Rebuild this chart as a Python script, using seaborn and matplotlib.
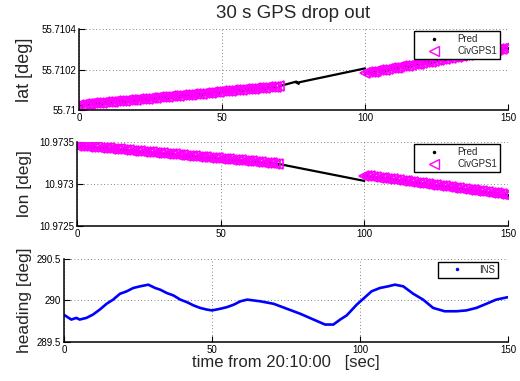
import numpy as np
import matplotlib
matplotlib.use("Agg")
import matplotlib.pyplot as plt
from matplotlib.lines import Line2D
import seaborn as sns

# ---- data ----
# GPS samples at 1 s, offsets in micro-degrees
gps_t1 = list(range(0, 71))
gps_t2 = list(range(100, 151))

lat_base = 55.71
lat_gps1 = [26, 27, 29, 30, 31, 33, 34, 35, 36, 38,
            39, 40, 42, 43, 44, 46, 47, 48, 50, 51,
            52, 54, 55, 56, 57, 59, 60, 61, 63, 64,
            65, 67, 68, 69, 71, 72, 73, 74, 76, 77,
            78, 80, 81, 82, 84, 85, 86, 88, 89, 90,
            92, 93, 94, 95, 97, 98, 99, 101, 102, 103,
            105, 106, 107, 109, 110, 111, 112, 114, 115, 116,
            118]
lat_gps2 = [183, 186, 188, 190, 193, 196, 198, 200, 203, 206,
            208, 210, 213, 216, 218, 220, 223, 226, 228, 230,
            233, 236, 238, 240, 243, 246, 248, 250, 253, 256,
            258, 260, 263, 266, 268, 270, 273, 276, 278, 280,
            283, 286, 288, 290, 293, 296, 298, 300, 303, 306,
            308]
drop_t_lat = [70, 76, 76.5, 100]
lat_drop = [118, 141, 136, 206]

lon_base = 10.9725
lon_gps1 = [956, 953, 950, 947, 944, 940, 937, 934, 931, 928,
            925, 922, 919, 916, 913, 910, 906, 903, 900, 897,
            894, 891, 888, 885, 882, 879, 875, 872, 869, 866,
            863, 860, 857, 854, 851, 848, 844, 841, 838, 835,
            832, 829, 826, 823, 820, 817, 813, 810, 807, 804,
            801, 798, 795, 792, 789, 786, 782, 779, 776, 773,
            770, 767, 764, 761, 758, 755, 751, 748, 745, 742,
            739]
lon_gps2 = [599, 594, 590, 585, 581, 576, 571, 567, 562, 558,
            553, 548, 544, 539, 535, 530, 525, 521, 516, 512,
            507, 502, 498, 493, 489, 484, 479, 475, 470, 466,
            461, 456, 452, 447, 443, 438, 433, 429, 424, 420,
            415, 410, 406, 401, 397, 392, 387, 383, 378, 374,
            369]
drop_t_lon = [70, 100]
lon_drop = [739, 536]

head_t = [0, 2.5, 4.2, 5.3, 7.6, 9.8, 12.1, 14.4, 16.6, 18.9, 21.2, 23.4, 25.7,
          28.5, 30.8, 32.5, 34.7, 37, 39.3, 41.5, 43.8, 46, 48.3, 50, 52.8,
          55.1, 57.4, 59.6, 61.9, 64.1, 66.3, 70.8, 75.3, 79.8, 84.3, 88.2, 91,
          93.3, 95.5, 98.9, 101.1, 103.9, 106.7, 109.5, 111.8, 114.6, 118,
          121.3, 124.7, 128.6, 132.6, 135.9, 139.3, 142.7, 146, 150]
heading = [289.827, 289.77, 289.79, 289.77, 289.79, 289.83, 289.89, 289.96,
           290.01, 290.08, 290.11, 290.15, 290.17, 290.19, 290.15, 290.13,
           290.09, 290.06, 290.01, 289.98, 289.94, 289.91, 289.89, 289.88,
           289.90, 289.92, 289.95, 289.99, 290.01, 290.0, 289.99, 289.96,
           289.90, 289.84, 289.77, 289.71, 289.71, 289.77, 289.82, 289.95,
           290.02, 290.11, 290.15, 290.17, 290.19, 290.17, 290.08, 290.01,
           289.91, 289.87, 289.87, 289.88, 289.91, 289.96, 290.01, 290.04]

sns.set_style("white")
plt.rcParams["font.family"] = ["Liberation Sans", "DejaVu Sans"]

fig = plt.figure(figsize=(5.2, 3.81), dpi=100)
ax1 = fig.add_axes([0.152, 0.711, 0.825, 0.2126])
ax2 = fig.add_axes([0.148, 0.407, 0.829, 0.2205])
ax3 = fig.add_axes([0.123, 0.1024, 0.854, 0.218])

MAG = "#ff00ff"
LEG = dict(fontsize=7, fancybox=False, edgecolor="k", framealpha=1,
           borderaxespad=0, borderpad=0.3)


def pos_panel(ax, base, g1, g2, dt, dv):
    t_pred = gps_t1 + dt[1:-1] + gps_t2
    v_pred = g1 + dv[1:-1] + g2
    # dropout line (prediction only)
    sns.lineplot(x=dt, y=[base + v * 1e-6 for v in dv], ax=ax, color="k",
                 lw=1.6, estimator=None, sort=False)
    # prediction dots
    sns.lineplot(x=t_pred, y=[base + v * 1e-6 for v in v_pred], ax=ax,
                 color="k", lw=0, marker=".", markersize=2.5,
                 markeredgecolor="k", estimator=None)
    # GPS triangles
    for tt, vv in [(gps_t1, g1), (gps_t2, g2)]:
        sns.lineplot(x=tt, y=[base + v * 1e-6 for v in vv], ax=ax, lw=0,
                     marker="<", markersize=7, markerfacecolor="none",
                     markeredgecolor=MAG, markeredgewidth=1.25,
                     estimator=None)
    handles = [Line2D([], [], color="k", marker=".", ls="", markersize=3),
               Line2D([], [], color=MAG, marker="<", ls="", markersize=7,
                      markerfacecolor="none")]
    leg = ax.legend(handles, ["Pred", "CivGPS1"], loc="upper right",
                    bbox_to_anchor=(0.981, 0.975), handlelength=3.5,
                    labelspacing=0.25, handletextpad=0.6, **LEG)
    leg.get_frame().set_linewidth(1.0)


pos_panel(ax1, lat_base, lat_gps1, lat_gps2, drop_t_lat, lat_drop)
pos_panel(ax2, lon_base, lon_gps1, lon_gps2, drop_t_lon, lon_drop)

sns.lineplot(x=head_t, y=heading, ax=ax3, color="#0000ff", lw=1.9,
             estimator=None)
h = [Line2D([], [], color="#0000ff", marker=".", ls="", markersize=3)]
leg = ax3.legend(h, ["INS"], loc="upper right", bbox_to_anchor=(0.977, 0.964),
                 handlelength=3.2, handletextpad=0.7, **LEG)
leg.get_frame().set_linewidth(1.0)

ax1.set_ylim(55.71, 55.7104)
ax1.set_yticks([55.71, 55.7102, 55.7104])
ax1.set_yticklabels(["55.71", "55.7102", "55.7104"])
ax2.set_ylim(10.9725, 10.9735)
ax2.set_yticks([10.9725, 10.973, 10.9735])
ax2.set_yticklabels(["10.9725", "10.973", "10.9735"])
ax3.set_ylim(289.5, 290.5)
ax3.set_yticks([289.5, 290, 290.5])
ax3.set_yticklabels(["289.5", "290", "290.5"])

for ax in (ax1, ax2, ax3):
    ax.set_xlim(0, 150)
    ax.set_xticks([0, 50, 100, 150])
    ax.set_xticklabels(["0", "50", "100", "150"])
    ax.grid(True, color="0.35", linestyle=(0, (1, 3)), lw=0.6)
    for s in ("top", "right"):
        ax.spines[s].set_visible(False)
    for s in ("left", "bottom"):
        ax.spines[s].set_color("k")
        ax.spines[s].set_linewidth(1.1)
    ax.tick_params(direction="in", length=4, width=0.8, labelsize=7,
                   pad=2, colors="k", bottom=True, left=True)
    ax.set_xlabel("")

ax1.set_ylabel("lat [deg]", fontsize=13)
ax1.yaxis.set_label_coords(-0.107, 0.5)
ax2.set_ylabel("lon [deg]", fontsize=12.5)
ax2.yaxis.set_label_coords(-0.104, 0.5)
ax3.set_ylabel("heading [deg]", fontsize=12.5)
ax3.yaxis.set_label_coords(-0.072, 0.5)

ax1.set_title("30 s GPS drop out", fontsize=13.5, pad=8)
ax3.set_xlabel("time from 20:10:00   [sec]", fontsize=12, labelpad=0)

fig.savefig("out.png", dpi=100)
